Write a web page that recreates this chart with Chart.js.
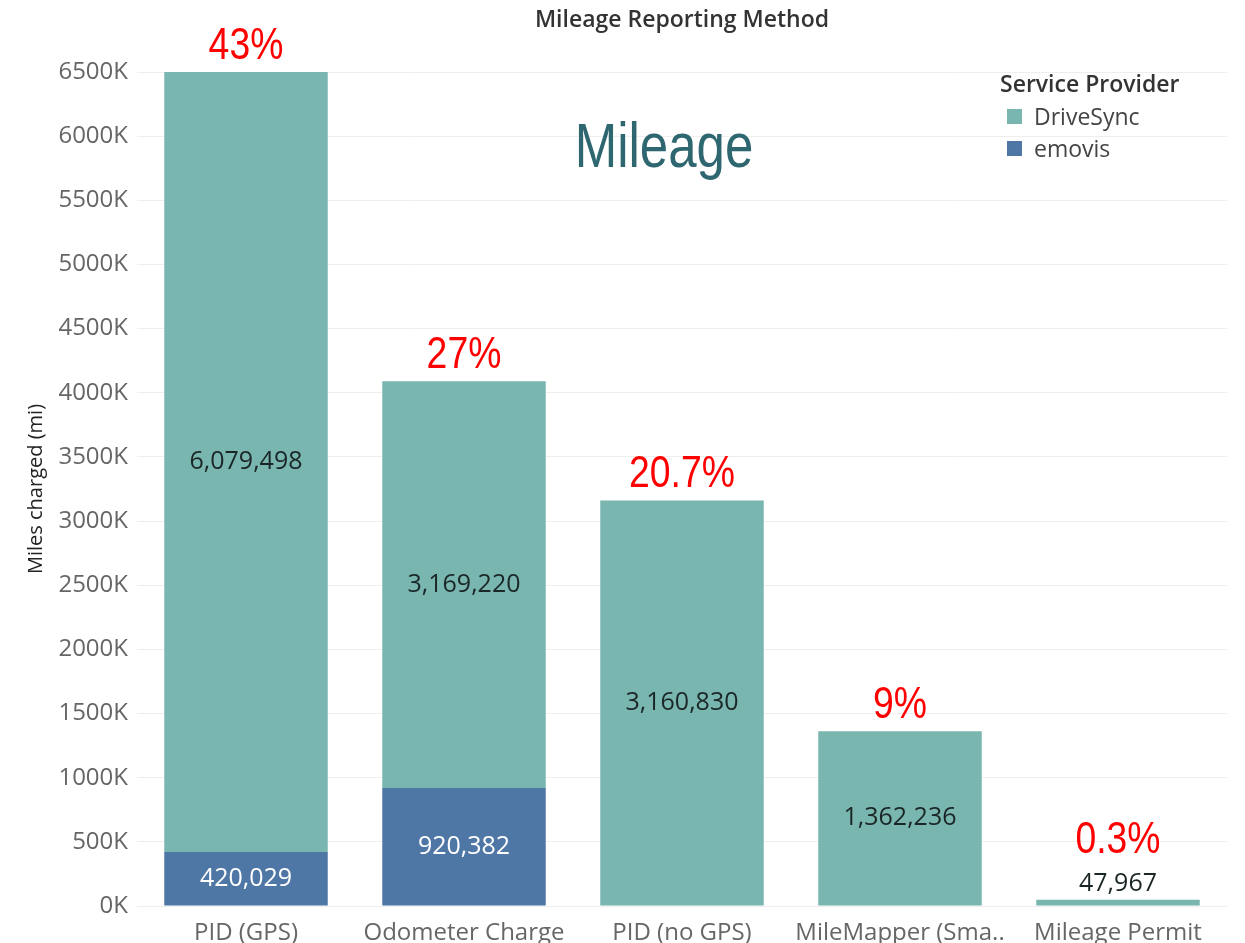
<!DOCTYPE html>
<html>
<head>
<meta charset="utf-8">
<script src="https://cdn.jsdelivr.net/npm/chart.js@4.4.1/dist/chart.umd.min.js"></script>
<style>
  html, body { margin: 0; padding: 0; background: #fff; }
  #chart { display: block; }
</style>
</head>
<body>
<canvas id="chart" width="1245" height="943"></canvas>
<script>
// data
const categories = ["PID (GPS)", "Odometer Charge", "PID (no GPS)", "MileMapper (Sma..", "Mileage Permit"];
const driveSync = [6079498, 3169220, 3160830, 1362236, 47967];
const emovis = [420029, 920382, 0, 0, 0];
const shares = ["43%", "27%", "20.7%", "9%", "0.3%"];
const yMax = 6500000;
const yStep = 500000;

const FONT = "'Open Sans', 'Noto Sans', sans-serif";
const ARIAL = "'Liberation Sans', Arial, sans-serif";
const TEAL = "#79b6b0";
const BLUE = "#4e77a6";

const fmt = v => v.toLocaleString("en-US");

// draw text squeezed horizontally (stands in for a narrow font)
function narrowText(ctx, text, x, y, sx) {
  ctx.save();
  ctx.translate(x, y);
  ctx.scale(sx, 1);
  ctx.fillText(text, 0, 0);
  ctx.restore();
}

// value labels inside / above each segment, plus the red share labels
const labelsPlugin = {
  id: "barLabels",
  afterDatasetsDraw(chart) {
    const ctx = chart.ctx;
    ctx.save();
    ctx.textAlign = "center";
    const tops = [];
    chart.data.datasets.forEach((ds, di) => {
      const meta = chart.getDatasetMeta(di);
      meta.data.forEach((bar, i) => {
        const v = ds.data[i];
        if (!v) return;
        const h = bar.base - bar.y;
        ctx.font = "25px " + FONT;
        let top = bar.y;
        if (h > 34) {
          ctx.fillStyle = ds.labelColor;
          ctx.textBaseline = "middle";
          ctx.fillText(fmt(v), bar.x, (bar.y + bar.base) / 2);
        } else {
          // too thin: put the number above the bar
          ctx.fillStyle = "#1b2626";
          ctx.textBaseline = "alphabetic";
          ctx.fillText(fmt(v), bar.x, bar.y - 9);
          top = bar.y - 34;
        }
        tops[i] = tops[i] === undefined ? top : Math.min(tops[i], top);
      });
    });
    ctx.font = "45px " + ARIAL;
    ctx.fillStyle = "#ff0000";
    ctx.textBaseline = "alphabetic";
    const meta = chart.getDatasetMeta(0);
    shares.forEach((s, i) => {
      narrowText(ctx, s, meta.data[i].x, tops[i] - 13, 0.83);
    });
    ctx.restore();
  }
};

// title, overlay word and the legend box in the upper right
const overlayPlugin = {
  id: "overlay",
  afterDraw(chart) {
    const ctx = chart.ctx;
    const area = chart.chartArea;
    ctx.save();
    ctx.textAlign = "center";
    ctx.textBaseline = "middle";
    ctx.fillStyle = "#333";
    ctx.font = "600 23px " + FONT;
    ctx.fillText("Mileage Reporting Method", (area.left + area.right) / 2, 20);

    ctx.font = "63px " + ARIAL;
    ctx.fillStyle = "#2e6770";
    ctx.textBaseline = "alphabetic";
    narrowText(ctx, "Mileage", 664, 167, 0.81);

    ctx.textAlign = "left";
    ctx.textBaseline = "middle";
    ctx.fillStyle = "#333";
    ctx.font = "600 23px " + FONT;
    ctx.fillText("Service Provider", 1000, 85);
    const items = [chart.data.datasets[1], chart.data.datasets[0]];
    ctx.textBaseline = "alphabetic";
    items.forEach((ds, k) => {
      const y = 109 + k * 32;
      ctx.fillStyle = ds.backgroundColor;
      ctx.fillRect(1007, y, 15, 15);
      ctx.fillStyle = "#444";
      ctx.font = "23px " + FONT;
      ctx.fillText(ds.label, 1034, y + 16);
    });
    ctx.restore();
  }
};

new Chart(document.getElementById("chart"), {
  type: "bar",
  data: {
    labels: categories,
    datasets: [
      { label: "emovis", data: emovis, backgroundColor: BLUE, labelColor: "#ffffff" },
      { label: "DriveSync", data: driveSync, backgroundColor: TEAL, labelColor: "#1b2626" }
    ]
  },
  options: {
    responsive: false,
    animation: false,
    devicePixelRatio: 1,
    categoryPercentage: 0.75,
    barPercentage: 1.0,
    layout: { padding: { top: 72, left: 0, right: 18, bottom: 0 } },
    plugins: {
      legend: { display: false },
      tooltip: { enabled: false },
      title: { display: false }
    },
    scales: {
      x: {
        stacked: true,
        grid: { display: false },
        border: { display: false },
        ticks: {
          color: "#666",
          font: { family: FONT, size: 24 },
          padding: 5,
          maxRotation: 0,
          autoSkip: false
        },
        afterFit: s => { s.height = 37; }
      },
      y: {
        stacked: true,
        min: 0,
        max: yMax,
        grid: { color: "#eeeeee", drawTicks: false },
        border: { display: false },
        ticks: {
          stepSize: yStep,
          color: "#666",
          font: { family: FONT, size: 24 },
          padding: 9,
          callback: v => (v / 1000) + "K"
        },
        title: {
          display: true,
          text: "Miles charged (mi)",
          color: "#222",
          font: { family: FONT, size: 20 },
          padding: { top: 24, bottom: 0 }
        },
        afterFit: s => { s.width = 137; }
      }
    }
  },
  plugins: [labelsPlugin, overlayPlugin]
});
</script>
</body>
</html>
